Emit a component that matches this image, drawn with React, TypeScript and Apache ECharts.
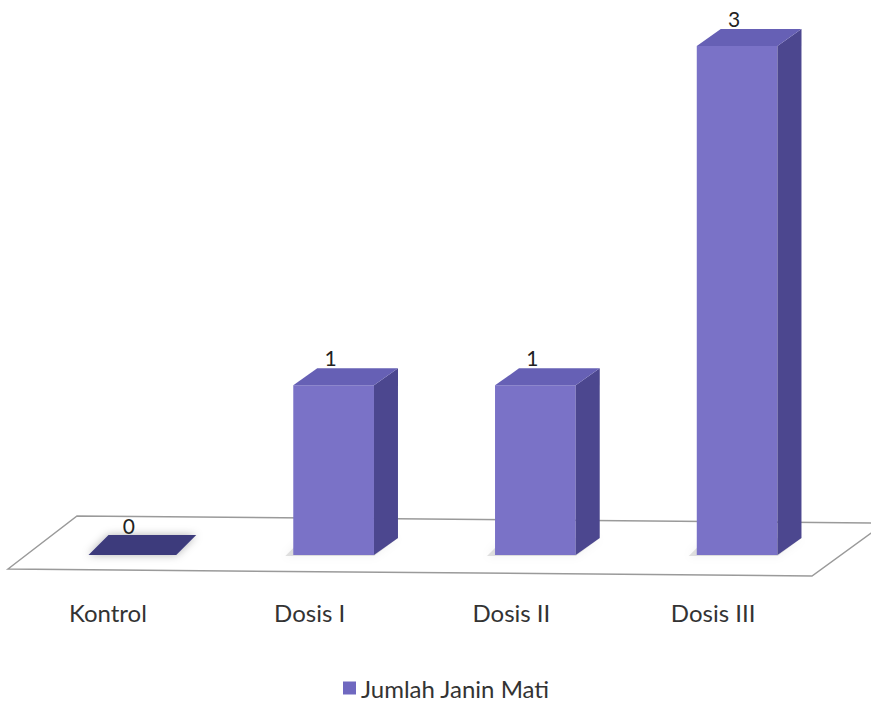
import React, { useEffect, useRef } from "react";
import * as echarts from "echarts";

const categories = ["Kontrol", "Dosis I", "Dosis II", "Dosis III"];
const values = [0, 1, 1, 3];
const seriesName = "Jumlah Janin Mati";

const FRONT = "#7a72c7";
const SIDE = "#4c478f";
const TOP = "#6660b5";
const ZERO = "#3c3a7c";
const FONT = "Lato, 'Open Sans', sans-serif";

export default function App() {
  const ref = useRef<HTMLDivElement | null>(null);
  useEffect(() => {
    if (!ref.current) return;
    const chart = echarts.init(ref.current, null, { renderer: "svg" });
    const dx = 24;
    const dy = -17;
    const option: any = {
      animation: false,
      backgroundColor: "#ffffff",
      grid: { left: 31, right: 33, top: 46, bottom: 146, containLabel: false },
      xAxis: {
        type: "category",
        data: categories,
        axisLine: { show: false },
        axisTick: { show: false },
        splitLine: { show: false },
        axisLabel: {
          margin: 45,
          fontSize: 24,
          fontFamily: FONT,
          color: "#333333",
          padding: [0, 48, 0, 0],
        },
      },
      yAxis: { type: "value", min: 0, max: 3, show: false },
      legend: {
        top: 676,
        left: 343,
        padding: 0,
        itemWidth: 13,
        itemHeight: 13,
        itemGap: 6,
        icon: "rect",
        textStyle: { fontSize: 24, fontFamily: FONT, color: "#333333" },
        data: [seriesName],
      },
      graphic: [
        {
          type: "polygon",
          z: 0,
          shape: {
            points: [
              [8, 569],
              [77, 516],
              [885, 523],
              [812, 576],
            ],
          },
          style: { fill: "#ffffff", stroke: "#9a9a9a", lineWidth: 1.5 },
        },
      ],
      series: [
        {
          type: "custom",
          name: seriesName,
          z: 5,
          itemStyle: { color: "#6f68c0" },
          data: values.map((v, i) => [i, v]),
          renderItem: (params: any, api: any) => {
            const idx = api.value(0);
            const v = api.value(1);
            const base = api.coord([idx, 0]);
            const top = api.coord([idx, v]);
            const w = api.size([1, 0])[0] * 0.4;
            const xL = base[0] - w / 2;
            const xR = base[0] + w / 2;
            const yB = base[1];
            const yT = top[1];
            const children: any[] = [];
            if (v > 0) {
              children.push({
                type: "polygon",
                shape: {
                  points: [
                    [xL - 8, yB + 1],
                    [xL + dx - 14, yB + dy],
                    [xR + dx, yB + dy],
                    [xR, yB + 1],
                  ],
                },
                style: {
                  fill: "rgba(120,120,120,0.22)",
                  shadowBlur: 8,
                  shadowColor: "rgba(0,0,0,0.25)",
                },
              });
              children.push({
                type: "rect",
                shape: { x: xL, y: yT, width: w, height: yB - yT },
                style: { fill: FRONT },
              });
              children.push({
                type: "polygon",
                shape: {
                  points: [
                    [xR, yT],
                    [xR + dx, yT + dy],
                    [xR + dx, yB + dy],
                    [xR, yB],
                  ],
                },
                style: { fill: SIDE },
              });
              children.push({
                type: "polygon",
                shape: {
                  points: [
                    [xL, yT],
                    [xL + dx, yT + dy],
                    [xR + dx, yT + dy],
                    [xR, yT],
                  ],
                },
                style: { fill: TOP },
              });
            } else {
              children.push({
                type: "polygon",
                shape: {
                  points: [
                    [xL - 3, yB],
                    [xL + dx - 7, yB + dy - 3],
                    [xR + dx, yB + dy - 3],
                    [xR + 4, yB],
                  ],
                },
                style: {
                  fill: ZERO,
                  shadowBlur: 8,
                  shadowColor: "rgba(0,0,0,0.3)",
                },
              });
            }
            children.push({
              type: "text",
              x: base[0] - 3,
              y: v > 0 ? yT - 28 : yT - 30,
              style: {
                text: String(v),
                fontSize: 21,
                fontFamily: FONT,
                fill: "#222222",
                align: "center",
                verticalAlign: "middle",
              },
            });
            return { type: "group", children };
          },
        },
      ],
    };
    chart.setOption(option);
    return () => chart.dispose();
  }, []);
  return (
    <div
      ref={ref}
      style={{ position: "fixed", left: 0, top: 0, width: 871, height: 701 }}
    />
  );
}
